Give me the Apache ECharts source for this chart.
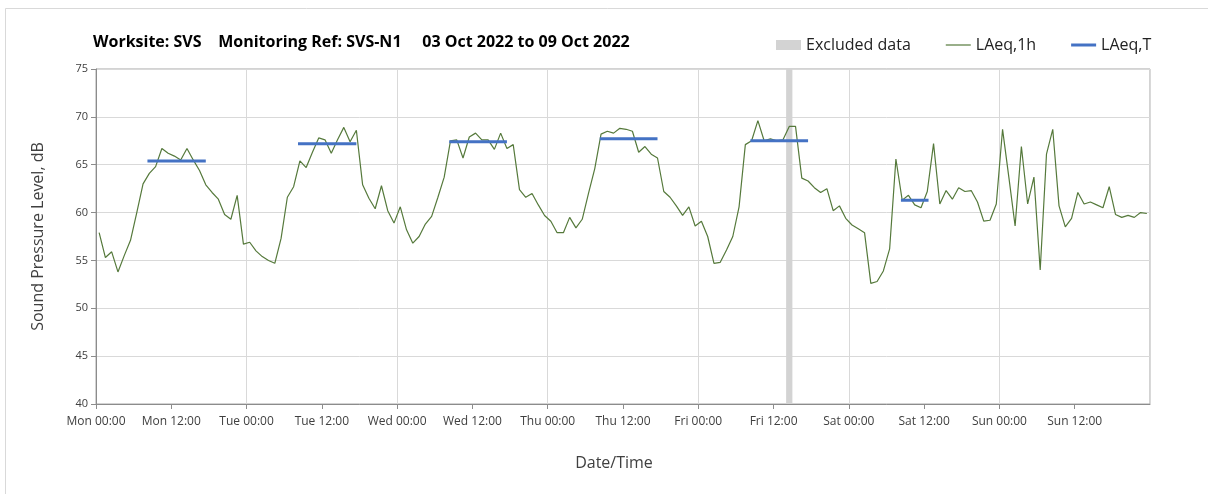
<!DOCTYPE html>
<html>
<head>
<meta charset="utf-8">
<script src="https://cdn.jsdelivr.net/npm/echarts@6/dist/echarts.min.js"></script>
<style>
html,body{margin:0;padding:0;background:#fff;}
#chart{width:1208px;height:494px;}
</style>
</head>
<body>
<div id="chart"></div>
<script>
// ---- data ----
var dayNames = ['Mon', 'Tue', 'Wed', 'Thu', 'Fri', 'Sat', 'Sun'];
var tickTimes = ['00:00', '12:00'];
var yTicks = [40, 45, 50, 55, 60, 65, 70, 75];
// hourly LAeq,1h values from Mon 00:00 (one per hour, 168 values)
var laeq1h = [
  57.9, 55.3, 55.9, 53.8, 55.5, 57.1, 60.0, 63.0, 64.1, 64.8, 66.7, 66.2, 65.9, 65.5, 66.7, 65.5, 64.4, 62.9, 62.1, 61.4, 59.8, 59.3, 61.8, 56.7,
  56.9, 56.0, 55.4, 55.0, 54.7, 57.3, 61.6, 62.7, 65.4, 64.7, 66.3, 67.8, 67.6, 66.2, 67.6, 68.9, 67.4, 68.6, 62.9, 61.5, 60.4, 62.8, 60.2, 58.9,
  60.6, 58.2, 56.8, 57.5, 58.8, 59.6, 61.6, 63.7, 67.5, 67.6, 65.7, 67.9, 68.3, 67.6, 67.6, 66.6, 68.3, 66.7, 67.1, 62.4, 61.6, 62.0, 60.8, 59.7,
  59.1, 57.9, 57.9, 59.5, 58.4, 59.3, 62.0, 64.6, 68.2, 68.5, 68.3, 68.8, 68.7, 68.5, 66.3, 66.9, 66.1, 65.7, 62.2, 61.6, 60.7, 59.7, 60.6, 58.6,
  59.1, 57.5, 54.7, 54.8, 56.1, 57.5, 60.6, 67.1, 67.5, 69.6, 67.5, 67.7, 67.5, 67.6, 69.0, 69.0, 63.6, 63.3, 62.6, 62.1, 62.5, 60.2, 60.7, 59.4,
  58.7, 58.3, 57.9, 52.6, 52.8, 53.9, 56.2, 65.6, 61.3, 61.8, 60.8, 60.5, 62.2, 67.2, 60.9, 62.3, 61.4, 62.6, 62.2, 62.3, 61.1, 59.1, 59.2, 60.9,
  68.7, 63.7, 58.6, 66.9, 60.9, 63.7, 54.0, 66.1, 68.7, 60.7, 58.5, 59.4, 62.1, 60.9, 61.1, 60.8, 60.5, 62.7, 59.8, 59.5, 59.7, 59.5, 60.0, 59.9
];
// LAeq,T periods (hours from Mon 00:00) and levels
var laeqTStart = [8.2, 32.2, 56.3, 80.3, 104.3, 128.3];
var laeqTEnd   = [17.5, 41.5, 65.5, 89.5, 113.5, 132.7];
var laeqTValue = [65.4, 67.2, 67.4, 67.7, 67.5, 61.3];
// excluded data periods (hours from Mon 00:00)
var exclStart = [110];
var exclEnd = [111];

// ---- build ----
var lineData = laeq1h.map(function (v, i) { return [i + 0.5, v]; });
var tData = [];
laeqTStart.forEach(function (s, i) {
  tData.push([s, laeqTValue[i]]);
  tData.push([laeqTEnd[i], laeqTValue[i]]);
  if (i < laeqTStart.length - 1) tData.push([laeqTEnd[i], '-']);
});
var exclAreas = exclStart.map(function (s, i) { return [{xAxis: s}, {xAxis: exclEnd[i]}]; });

var FONT = '"Open Sans", "Noto Sans", sans-serif';
var chart = echarts.init(document.getElementById('chart'), null, {renderer: 'canvas'});
chart.setOption({
  animation: false,
  backgroundColor: '#ffffff',
  graphic: [{
    type: 'rect', silent: true, z: -10,
    shape: {x: 5.5, y: 8.5, width: 1400, height: 1000},
    style: {fill: 'none', stroke: '#d9d9d9', lineWidth: 1}
  }],
  title: {
    text: 'Worksite: SVS    Monitoring Ref: SVS-N1     03 Oct 2022 to 09 Oct 2022',
    left: 88, top: 29,
    textStyle: {fontFamily: FONT, fontSize: 16, fontWeight: 'bold', color: '#000'}
  },
  legend: {
    left: 776, top: 37, padding: 0,
    itemWidth: 25, itemHeight: 10, itemGap: 35,
    symbolKeepAspect: true,
    textStyle: {fontFamily: FONT, fontSize: 16, color: '#222'},
    data: [
      {name: 'Excluded data', icon: 'rect', itemStyle: {color: '#d3d3d3'}},
      {name: 'LAeq,1h', icon: 'path://M0,0 L25,0 L25,1.2 L0,1.2 Z'},
      {name: 'LAeq,T', icon: 'path://M0,0 L25,0 L25,3 L0,3 Z'}
    ]
  },
  grid: {left: 96, right: 58, top: 69, bottom: 90, show: true, borderColor: '#a6a6a6', borderWidth: 1},
  xAxis: [{
    type: 'value', min: 0, max: 168, interval: 12,
    name: 'Date/Time', nameLocation: 'middle', nameGap: 51,
    nameTextStyle: {fontFamily: FONT, fontSize: 16, color: '#404040', padding: [0, 18, 0, 0]},
    axisLine: {show: true, lineStyle: {color: '#8c8c8c'}},
    axisTick: {show: true, length: 5, lineStyle: {color: '#8c8c8c'}},
    axisLabel: {
      fontFamily: FONT, fontSize: 12, color: '#404040', margin: 12, showMaxLabel: false,
      formatter: function (v) {
        if (v >= 168) return '';
        return dayNames[Math.floor(v / 24)] + ' ' + tickTimes[(v % 24) / 12];
      }
    },
    splitLine: {show: false}
  }, {
    type: 'value', min: 0, max: 168, interval: 24, position: 'bottom',
    axisLine: {show: false}, axisTick: {show: false}, axisLabel: {show: false},
    splitLine: {show: true, lineStyle: {color: '#d9d9d9', width: 1}}
  }],
  yAxis: {
    type: 'value', min: yTicks[0], max: yTicks[yTicks.length - 1], interval: 5,
    name: 'Sound Pressure Level, dB', nameLocation: 'middle', nameGap: 50,
    nameTextStyle: {fontFamily: FONT, fontSize: 16, color: '#404040'},
    axisLine: {show: true, lineStyle: {color: '#8c8c8c'}},
    axisTick: {show: true, length: 5, lineStyle: {color: '#8c8c8c'}},
    axisLabel: {fontFamily: FONT, fontSize: 11, color: '#404040', margin: 8},
    splitLine: {show: true, lineStyle: {color: '#d9d9d9', width: 1}}
  },
  series: [{
    name: 'Excluded data', type: 'line', data: [], z: 1,
    itemStyle: {color: '#d3d3d3'},
    markArea: {silent: true, itemStyle: {color: '#d3d3d3', opacity: 1}, data: exclAreas}
  }, {
    name: 'LAeq,1h', type: 'line', data: lineData, symbol: 'none', z: 3,
    itemStyle: {color: '#55793b'},
    lineStyle: {color: '#55793b', width: 1.2}
  }, {
    name: 'LAeq,T', type: 'line', data: tData, symbol: 'none', z: 4, connectNulls: false,
    itemStyle: {color: '#4472c4'},
    lineStyle: {color: '#4472c4', width: 3}
  }]
});
</script>
</body>
</html>
